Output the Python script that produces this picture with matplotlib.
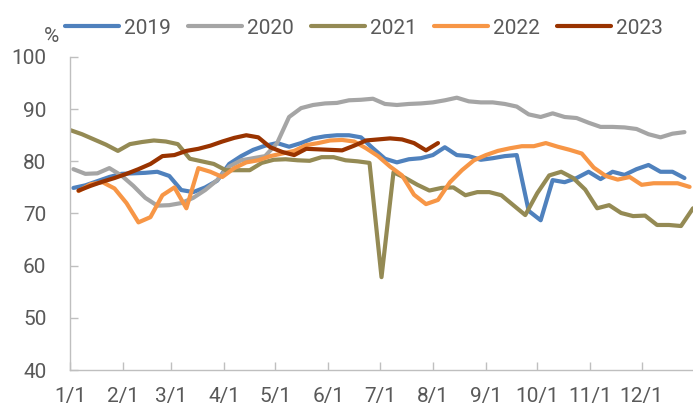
import numpy as np
import matplotlib
matplotlib.use("Agg")
import matplotlib.pyplot as plt

# weekly values, %
v2019 = [74.9, 75.4, 76.2, 77.0, 77.6, 77.7, 77.8, 78.0, 77.2, 74.5,
         74.1, 75.0, 76.3, 79.5, 81.0, 82.2, 83.0, 83.5, 82.8, 83.5,
         84.4, 84.8, 85.0, 85.0, 84.6, 82.5, 80.5, 79.8, 80.4, 80.6,
         81.2, 82.7, 81.2, 81.0, 80.3, 80.6, 81.0, 81.2, 70.5, 68.7,
         76.4, 76.0, 76.8, 78.0, 76.6, 78.0, 77.4, 78.5, 79.3, 78.0,
         78.0, 76.8]
v2020 = [78.5, 77.6, 77.7, 78.7, 77.3, 75.3, 73.0, 71.5, 71.6, 72.0,
         73.0, 74.5, 76.4, 79.0, 80.2, 80.6, 81.0, 83.5, 88.5, 90.2,
         90.8, 91.1, 91.2, 91.7, 91.8, 92.0, 91.0, 90.8, 91.0, 91.1,
         91.3, 91.7, 92.2, 91.5, 91.3, 91.3, 91.0, 90.5, 89.0, 88.5,
         89.2, 88.5, 88.3, 87.4, 86.6, 86.6, 86.5, 86.2, 85.2, 84.6,
         85.3, 85.6]
v2021 = [86.0, 85.2, 84.2, 83.2, 82.0, 83.3, 83.7, 84.0, 83.8, 83.3,
         80.5, 80.0, 79.5, 78.3, 78.3, 78.3, 79.7, 80.3, 80.4, 80.2,
         80.1, 80.8, 80.8, 80.2, 80.0, 79.7, 57.8, 77.9, 76.8, 75.5,
         74.4, 74.9, 75.0, 73.5, 74.1, 74.1, 73.5, 71.6, 69.7, 73.9,
         77.3, 78.0, 76.8, 74.6, 71.0, 71.6, 70.1, 69.5, 69.6, 67.8,
         67.8, 67.6, 71.0]
v2022 = [74.3, 75.6, 76.0, 74.8, 72.0, 68.3, 69.3, 73.5, 75.0, 71.0,
         78.7, 78.0, 77.0, 78.7, 79.8, 80.2, 81.0, 81.5, 82.0, 83.1,
         83.5, 84.0, 84.1, 83.8, 82.5, 81.0, 79.0, 77.3, 73.6, 71.8,
         72.6, 76.0, 78.3, 80.2, 81.2, 82.0, 82.5, 82.9, 82.9, 83.5,
         82.8, 82.2, 81.5, 78.8, 77.2, 76.5, 77.0, 75.5, 75.8, 75.8,
         75.8, 75.1]
v2023 = [74.4, 75.3, 76.1, 76.8, 77.6, 78.5, 79.5, 81.0, 81.2, 82.0,
         82.4, 83.0, 83.8, 84.5, 85.0, 84.6, 82.7, 81.8, 81.2, 82.4,
         82.3, 82.2, 82.1, 83.0, 84.0, 84.2, 84.4, 84.2, 83.5, 82.1,
         83.5]

years = ["2019", "2020", "2021", "2022", "2023"]
series = [v2019, v2020, v2021, v2022, v2023]
start_day = [2, 2, 0, 5, 5]  # day of year of first weekly point
colors = ["#4F81BD", "#A5A5A5", "#948A54", "#F79646", "#993300"]

month_days = [0, 31, 59, 90, 120, 151, 181, 212, 243, 273, 304, 334]
month_labels = ["1/1", "2/1", "3/1", "4/1", "5/1", "6/1", "7/1", "8/1",
                "9/1", "10/1", "11/1", "12/1"]

plt.rcParams["font.family"] = ["Roboto", "DejaVu Sans"]
txt = "#595959"
axc = "#BFBFBF"
fs = 15

fig = plt.figure(figsize=(6.93, 4.12), dpi=100)
ax = fig.add_axes([70 / 693, 42 / 412, 623 / 693, 313 / 412])

for name, vals, s, c in zip(years, series, start_day, colors):
    x = s + 7 * np.arange(len(vals))
    ax.plot(x, vals, color=c, linewidth=3, label=name,
            solid_capstyle="round", solid_joinstyle="round")

ax.set_xlim(0, 364)
ax.set_ylim(40, 100)
ax.set_yticks(range(40, 101, 10))
ax.set_xticks(month_days)
ax.set_xticklabels(month_labels)

for sp in ["top", "right"]:
    ax.spines[sp].set_visible(False)
for sp in ["left", "bottom"]:
    ax.spines[sp].set_color(axc)
    ax.spines[sp].set_linewidth(1)

ax.tick_params(axis="both", direction="in", length=6, width=1, color=axc,
               labelcolor=txt, labelsize=fs)
ax.tick_params(axis="x", pad=12)
ax.tick_params(axis="y", pad=17)

fig.text(51 / 693, 1 - 36 / 412, "%", color=txt, fontsize=fs,
         ha="center", va="center")

leg = fig.legend(loc="center", bbox_to_anchor=(364 / 693, 1 - 28 / 412),
                 ncol=5, frameon=False, fontsize=fs, handlelength=2.6,
                 handletextpad=0.25, columnspacing=0.8, borderaxespad=0)
for t in leg.get_texts():
    t.set_color(txt)
for h in leg.get_lines():
    h.set_linewidth(3)

fig.savefig("out.png", dpi=100)
